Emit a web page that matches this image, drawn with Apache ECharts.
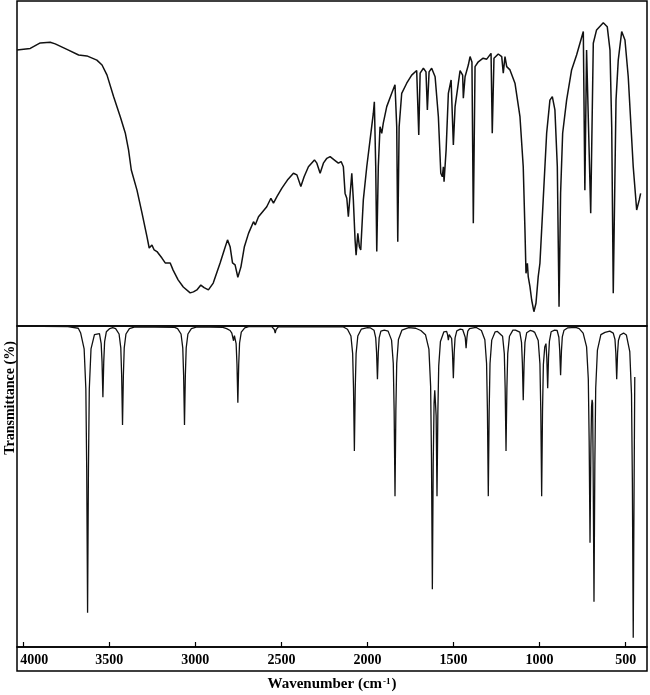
<!DOCTYPE html>
<html><head><meta charset="utf-8">
<script src="https://cdn.jsdelivr.net/npm/echarts@6/dist/echarts.min.js"></script>
<style>html,body{margin:0;padding:0;background:#fff}#c{width:650px;height:695px}</style>
</head><body><div id="c"></div>
<script>
const xTicks = [4000,3500,3000,2500,2000,1500,1000,500];
const expWavenumber = [4036,3959,3901,3843,3814,3746,3678,3630,3572,3542,
3513,3475,3436,3407,3388,3372,3361,3339,3310,3281,
3268,3252,3239,3223,3194,3175,3146,3129,3100,3070,
3030,3011,2991,2968,2949,2924,2896,2856,2832,2813,
2798,2784,2769,2753,2735,2715,2691,2662,2652,2633,
2585,2561,2546,2526,2497,2465,2430,2410,2387,2368,
2343,2308,2294,2275,2256,2236,2217,2188,2169,2153,
2140,2130,2120,2111,2101,2091,2082,2072,2066,2056,
2047,2039,2024,2004,1985,1966,1960,1952,1946,1937,
1927,1917,1908,1888,1859,1840,1830,1824,1816,1801,
1772,1743,1714,1706,1702,1694,1675,1660,1652,1642,
1627,1607,1588,1574,1565,1559,1555,1543,1530,1514,
1506,1501,1491,1472,1462,1447,1443,1433,1414,1404,
1393,1385,1375,1356,1328,1307,1282,1275,1265,1240,
1220,1211,1201,1191,1172,1143,1114,1095,1085,1079,
1071,1066,1056,1046,1033,1021,1008,998,979,959,
940,926,911,897,887,878,866,843,814,785,
746,737,727,717,703,688,669,630,607,591,
581,572,556,543,523,504,485,456,436,421,
413];
const expTransmittance = [84.9,85.4,87.1,87.3,86.8,85.1,83.4,83.1,81.8,80.3,
77.2,70.6,64.4,59.4,54.2,48.0,47.7,41.8,34.8,27.5,
24.0,24.9,23.4,22.9,20.9,19.4,19.4,17.2,14.2,12.0,
10.2,10.5,11.1,12.6,11.8,11.1,13.2,19.4,23.4,26.5,
24.4,19.4,18.8,15.0,18.2,24.4,28.5,32.1,31.1,33.6,
36.7,39.3,37.8,39.8,42.4,44.9,47.0,46.5,42.9,45.9,
49.0,51.1,50.1,47.0,50.1,51.6,52.1,50.9,50.1,50.6,
49.0,40.8,39.3,33.6,33.1,47.0,38.8,26.5,21.8,28.5,
24.4,23.4,38.8,49.0,57.2,65.4,69.0,49.0,22.9,49.0,
61.3,59.3,62.4,67.5,71.6,74.2,61.3,25.9,61.3,71.6,
74.7,77.2,78.6,78.2,58.8,77.8,79.3,78.2,66.5,78.2,
79.3,76.7,64.4,47.0,45.9,49.0,44.4,54.2,71.6,75.7,
75.1,55.7,67.5,74.7,78.6,77.2,70.1,76.7,80.3,82.9,
81.2,31.6,79.8,81.3,82.4,82.1,83.9,59.3,82.4,83.7,
82.9,77.8,82.9,79.8,78.8,74.7,64.4,49.0,29.5,16.2,
19.3,15.2,12.1,8.0,4.4,7.0,15.2,19.3,38.8,59.3,
69.5,70.6,66.5,49.0,5.9,40.8,59.3,69.5,78.8,83.4,
90.6,41.8,84.9,85.4,34.7,87.0,91.1,93.3,92.1,84.9,
61.3,10.1,69.5,81.8,90.6,88.0,76.7,49.0,35.7,38.8,
40.8];
const calcPoints = [[4036,100],[3740,99.8],
[3680,99.3],[3666,97.8],[3646,92.9],[3636,80.4],[3631,55.3],[3626,10.7],[3621,55.3],[3616,80.4],[3606,92.9],[3586,97.3],
[3577,97.5],[3557,97.6],[3547,94.5],[3542,88.9],[3537,77.8],[3532,88.9],[3527,95.1],[3517,98.2],[3497,99.2],
[3480,99.5],[3463,99.2],[3443,97.5],[3433,93.2],[3428,84.6],[3423,69.2],[3418,84.6],[3413,93.2],[3403,97.5],[3383,99.2],[3350,99.7],
[3120,99.6],[3103,99.2],[3083,97.5],[3073,93.2],[3068,84.6],[3063,69.2],[3058,84.6],[3053,93.2],[3043,97.5],[3023,99.2],[2990,99.7],
[2840,99.6],[2818,99.2],[2798,98.6],[2788,97.8],[2783,97.2],[2778,95.4],[2773,97.0],[2768,97.0],[2763,94.5],[2758,88.0],[2753,76.1],[2748,88.0],[2743,94.7],[2733,98.1],[2713,99.4],[2690,99.8],
[2556,99.8],[2546,99.5],[2541,98.9],[2536,97.8],[2531,98.9],[2526,99.5],[2516,99.8],
[2140,99.7],[2116,99.0],[2096,96.9],[2086,91.4],[2081,80.5],[2076,61.1],[2071,80.5],[2066,91.4],[2056,96.9],[2036,99.0],[2000,99.5],
[1982,99.4],[1962,98.7],[1952,96.3],[1947,91.7],[1942,83.4],[1937,91.7],[1932,96.3],[1922,98.4],[1902,98.7],
[1880,98.4],[1860,95.6],[1850,88.3],[1845,73.5],[1840,47.0],[1835,73.5],[1830,88.3],[1820,95.8],[1800,98.7],[1760,99.5],
[1720,99.3],[1690,98.6],[1663,97.3],[1643,92.8],[1633,81.2],[1628,58.5],[1623,18.0],[1618,57.0],[1613,76.0],[1609,80.0],[1606,77.0],[1601,72.0],[1596,47.0],[1591,73.0],[1586,87.5],[1576,95.2],[1556,98.2],
[1540,98.3],[1535,97.4],[1530,95.6],[1525,97.3],[1521,97.7],[1511,96.1],[1506,91.6],[1501,83.7],[1496,91.8],[1491,96.3],[1481,98.5],[1461,99.0],
[1447,98.9],[1437,98.3],[1432,96.5],[1427,93.1],[1422,96.5],[1417,98.4],[1407,99.2],[1370,99.6],
[1338,98.6],[1318,95.7],[1308,88.3],[1303,73.5],[1298,47.0],[1293,73.5],[1288,88.3],[1278,95.6],[1258,98.2],[1245,98.3],
[1235,98.6],[1215,96.8],[1205,91.4],[1200,80.5],[1195,61.1],[1190,80.5],[1185,91.4],[1175,96.8],[1155,98.7],[1140,98.7],
[1135,98.9],[1115,98.1],[1105,94.9],[1100,88.4],[1095,76.9],[1090,88.4],[1085,94.9],[1075,97.9],[1055,98.6],[1040,98.4],
[1028,98.0],[1008,95.5],[998,88.2],[993,73.5],[988,47.0],[983,73.5],[978,88.0],[970,93.5],[963,94.5],[958,89.9],[953,80.6],[948,90.3],[943,95.2],[933,98.2],[913,98.7],
[898,98.6],[888,96.5],[883,92.3],[878,84.7],[873,92.3],[868,96.6],[858,98.7],[838,99.4],[790,99.6],
[770,99.2],[747,97.8],[727,93.5],[717,83.5],[712,64.0],[707,32.5],[702,62.0],[698,75.0],[695,77.0],[692,76.0],[689,57.0],[684,14.1],[679,57.0],[674,80.6],[664,92.5],[644,97.3],[620,98.0],
[592,98.4],[572,97.8],[562,95.8],[557,91.5],[552,83.4],[547,91.5],[542,95.5],[532,97.2],[512,97.8],
[496,97.2],[476,92.0],[466,78.6],[461,51.4],[456,2.9],[451,50.0],[447,84.1]];
const xTitleMain = 'Wavenumber (cm';
const xTitleSup = '-1';
const yTitle = 'Transmittance (%)';

const FONT = '"Liberation Serif","Times New Roman",serif';
const XMIN = 376, XMAX = 4036;
const chart = echarts.init(document.getElementById('c'), null, {renderer: 'canvas'});
const expData = expWavenumber.map((w, i) => [w, expTransmittance[i]]);
const option = {
  animation: false,
  backgroundColor: '#fff',
  grid: [
    {left: 17, right: 3, top: 1, height: 325, show: true, borderColor: '#000', borderWidth: 1.5},
    {left: 17, right: 3, top: 326, height: 321, show: true, borderColor: '#000', borderWidth: 1.5}
  ],
  xAxis: [
    {gridIndex: 0, type: 'value', inverse: true, min: XMIN, max: XMAX,
     axisLine: {show: false}, axisTick: {show: false}, axisLabel: {show: false}, splitLine: {show: false}},
    {gridIndex: 1, type: 'value', inverse: true, min: XMIN, max: XMAX,
     axisLine: {show: false}, splitLine: {show: false},
     axisTick: {show: true, inside: true, length: 5, customValues: xTicks, lineStyle: {color: '#000', width: 1.2}},
     axisLabel: {show: true, customValues: xTicks, margin: 6, fontFamily: FONT, fontWeight: 'bold', fontSize: 14, color: '#000',
       formatter: v => v === 4000 ? '{f|4000}' : String(v),
       rich: {f: {fontFamily: FONT, fontWeight: 'bold', fontSize: 14, color: '#000', padding: [0, 0, 0, 22]}}},
     name: '{a|' + xTitleMain + '}{s|' + xTitleSup + '}{a|)}', nameLocation: 'middle', nameGap: 30,
     nameTextStyle: {rich: {
       a: {fontFamily: FONT, fontWeight: 'bold', fontSize: 15, color: '#000'},
       s: {fontFamily: FONT, fontWeight: 'bold', fontSize: 9, color: '#000', verticalAlign: 'top', padding: [0, 1, 6, 1]}}}}
  ],
  yAxis: [
    {gridIndex: 0, type: 'value', min: 0, max: 100, show: false},
    {gridIndex: 1, type: 'value', min: 0, max: 100, show: false}
  ],
  graphic: [
    {type: 'rect', x: 17, y: 647, shape: {width: 630, height: 24}, style: {fill: null, stroke: '#000', lineWidth: 1.5}, silent: true},
    {type: 'text', x: 10, y: 398, rotation: Math.PI / 2,
     style: {text: yTitle, font: 'bold 14px ' + FONT, fill: '#000', align: 'center', verticalAlign: 'middle'}}
  ],
  series: [
    {type: 'line', xAxisIndex: 0, yAxisIndex: 0, data: expData, showSymbol: false, smooth: false,
     lineStyle: {color: '#111', width: 1.5}},
    {type: 'line', xAxisIndex: 1, yAxisIndex: 1, data: calcPoints, showSymbol: false, smooth: false,
     lineStyle: {color: '#111', width: 1.3}}
  ]
};
chart.setOption(option);
</script></body></html>
